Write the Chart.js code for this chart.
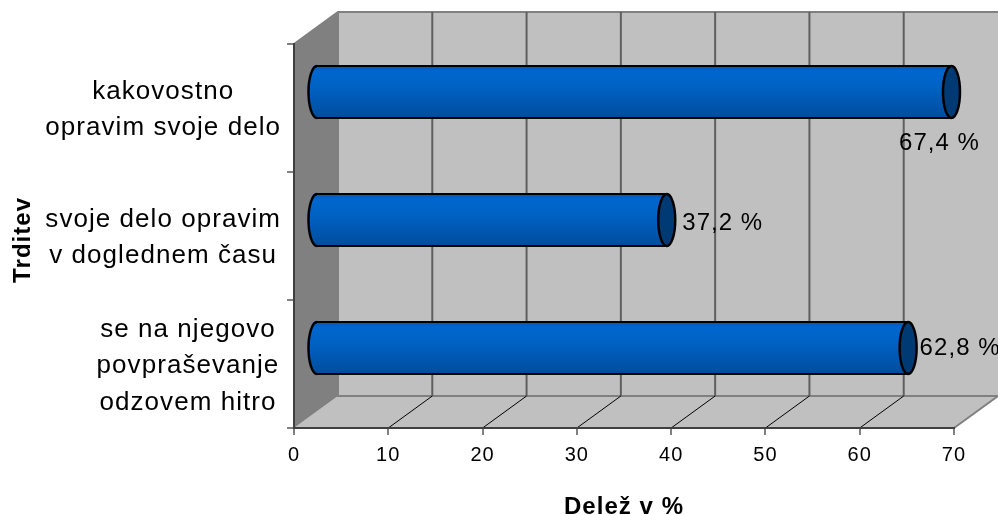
<!DOCTYPE html>
<html>
<head>
<meta charset="utf-8">
<style>
html,body{margin:0;padding:0;background:#fff;}
canvas{display:block;}
</style>
<script src="https://cdn.jsdelivr.net/npm/chart.js@4"></script>
</head>
<body>
<canvas id="myBarChart" width="998" height="515"></canvas>
<script>
const categories=[
	['kakovostno','opravim svoje delo'],
	['svoje delo opravim','v doglednem času'],
	['se na njegovo','povpraševanje','odzovem hitro']
];
const shares=[67.4,37.2,62.8];
const xTicks=[0,10,20,30,40,50,60,70];

// depth of the 3d box, back wall is shifted by this much
const depthX=44;
const depthY=-32;
// where each value label sits, relative to the end of its bar
const labelShift=[[-61,51],[7,3],[3,0]];

const fontName='"Liberation Sans", Arial, sans-serif';
const spacing='1.05px';

function polygon(ctx,points,fill,stroke,width) {
	ctx.beginPath();
	points.forEach(function(p,i) {
		if (i==0) ctx.moveTo(p[0],p[1]);
		else ctx.lineTo(p[0],p[1]);
	});
	ctx.closePath();
	ctx.fillStyle=fill;
	ctx.fill();
	if (stroke) {
		ctx.strokeStyle=stroke;
		ctx.lineWidth=width;
		ctx.stroke();
	}
}

const spacingPlugin={
	id:'spacing',
	beforeLayout(chart){ chart.ctx.letterSpacing=spacing; },
	beforeDraw(chart){ chart.ctx.letterSpacing=spacing; }
};

// side wall, floor and back wall with the gridlines
const boxPlugin={
	id:'box',
	beforeDraw(chart) {
		const ctx=chart.ctx;
		const a=chart.chartArea;
		const x=chart.scales.x;
		ctx.save();
		polygon(ctx,[[a.left+depthX,a.top+depthY],[a.right+depthX,a.top+depthY],[a.right+depthX,a.bottom+depthY],[a.left+depthX,a.bottom+depthY]],'#c0c0c0');
		polygon(ctx,[[a.left,a.bottom],[a.right,a.bottom],[a.right+depthX,a.bottom+depthY],[a.left+depthX,a.bottom+depthY]],'#c0c0c0');
		polygon(ctx,[[a.left,a.top],[a.left+depthX,a.top+depthY],[a.left+depthX,a.bottom+depthY],[a.left,a.bottom]],'#808080');
		ctx.strokeStyle='#808080';
		ctx.lineWidth=2;
		ctx.beginPath();
		ctx.moveTo(a.left,a.top);
		ctx.lineTo(a.left+depthX,a.top+depthY);
		ctx.lineTo(a.right+depthX,a.top+depthY);
		ctx.moveTo(a.left+depthX,a.top+depthY);
		ctx.lineTo(a.left+depthX,a.bottom+depthY);
		ctx.lineTo(a.right+depthX,a.bottom+depthY);
		ctx.moveTo(a.right,a.bottom);
		ctx.lineTo(a.right+depthX,a.bottom+depthY);
		ctx.stroke();
		xTicks.slice(1,-1).forEach(function(v) {
			const px=x.getPixelForValue(v);
			ctx.strokeStyle='#5f5f5f';
			ctx.lineWidth=2;
			ctx.beginPath();
			ctx.moveTo(px+depthX,a.top+depthY);
			ctx.lineTo(px+depthX,a.bottom+depthY);
			ctx.stroke();
			ctx.strokeStyle='#000';
			ctx.lineWidth=1;
			ctx.beginPath();
			ctx.moveTo(px,a.bottom);
			ctx.lineTo(px+depthX,a.bottom+depthY);
			ctx.stroke();
		});
		ctx.restore();
	}
};

// bars sit half way into the box and get round ends
const cylinderPlugin={
	id:'cylinder',
	beforeDatasetsDraw(chart) {
		const ctx=chart.ctx;
		ctx.save();
		ctx.translate(depthX/2,depthY/2);
		chart.getDatasetMeta(0).data.forEach(function(bar) {
			ctx.beginPath();
			ctx.ellipse(bar.base,bar.y,8.5,bar.height/2-1,0,Math.PI/2,Math.PI*1.5);
			ctx.fillStyle=barFill(ctx,bar.y,bar.height);
			ctx.fill();
			ctx.strokeStyle='#000';
			ctx.lineWidth=2.5;
			ctx.stroke();
		});
	},
	afterDatasetsDraw(chart) {
		const ctx=chart.ctx;
		chart.getDatasetMeta(0).data.forEach(function(bar,i) {
			ctx.beginPath();
			ctx.ellipse(bar.x,bar.y,8.5,bar.height/2-1,0,0,Math.PI*2);
			ctx.fillStyle='#003a74';
			ctx.fill();
			ctx.strokeStyle='#000';
			ctx.lineWidth=2.5;
			ctx.stroke();
			ctx.fillStyle='#000';
			ctx.font='24px '+fontName;
			ctx.textAlign='left';
			ctx.textBaseline='middle';
			const text=shares[i].toFixed(1).replace('.',',')+' %';
			ctx.fillText(text,bar.x+8.5+labelShift[i][0],bar.y+labelShift[i][1]);
		});
		ctx.restore();
	}
};

function barFill(ctx,y,h) {
	const g=ctx.createLinearGradient(0,y-h/2,0,y+h/2);
	g.addColorStop(0,'#0058b4');
	g.addColorStop(0.12,'#0066ce');
	g.addColorStop(0.4,'#0062c4');
	g.addColorStop(1,'#004c9c');
	return g;
}

const myBarChart=new Chart(document.getElementById('myBarChart').getContext('2d'),{
	type:'bar',
	data:{
		labels:categories,
		datasets:[{
			label:'Delež v %',
			data:shares,
			clip:false,
			barPercentage:1,
			categoryPercentage:0.42,
			borderColor:'#000',
			borderWidth:{top:2,bottom:2,left:0,right:0},
			borderSkipped:false,
			backgroundColor:function(c) {
				const bar=c.element;
				if (!bar || !bar.height) return '#0060c0';
				return barFill(c.chart.ctx,bar.y,bar.height);
			}
		}]
	},
	plugins:[spacingPlugin,boxPlugin,cylinderPlugin],
	options:{
		indexAxis:'y',
		responsive:false,
		animation:false,
		layout:{padding:{top:44,right:44,left:0,bottom:0}},
		plugins:{legend:{display:false},tooltip:{enabled:false}},
		scales:{
			x:{
				min:0,
				max:70,
				afterFit:function(scale){ scale.height=87; },
				afterBuildTicks:function(scale){ scale.ticks=xTicks.map(function(v){ return {value:v}; }); },
				grid:{drawOnChartArea:false,drawTicks:true,tickLength:7,color:'#808080',lineWidth:2},
				border:{color:'#404040',width:2},
				ticks:{color:'#000',padding:8,maxRotation:0,autoSkip:false,font:{family:fontName,size:20}},
				title:{display:true,text:'Delež v %',color:'#000',font:{family:fontName,size:24,weight:'bold'},padding:{top:0,bottom:-7}}
			},
			y:{
				// tall multi line labels would otherwise push the plot area down
				afterFit:function(scale){ scale.width=294; scale.paddingTop=0; scale.paddingBottom=0; },
				grid:{drawOnChartArea:false,drawTicks:true,tickLength:7,color:'#808080',lineWidth:2},
				border:{color:'#404040',width:2},
				ticks:{
					color:'#000',
					padding:6,
					labelOffset:2,
					crossAlign:'center',
					font:{family:fontName,size:26,lineHeight:1.4},
					// the last group of lines sits further right than the others
					callback:function(value,index) {
						return index==2 ? categories[2].map(function(s){ return '      '+s; }) : categories[index];
					}
				},
				title:{display:true,text:'Trditev ',color:'#000',font:{family:fontName,size:24,weight:'bold'},padding:{top:9,bottom:0}}
			}
		}
	}
});
// second pass so the bar gradient can use the laid out bar positions
myBarChart.update();
</script>
</body>
</html>
